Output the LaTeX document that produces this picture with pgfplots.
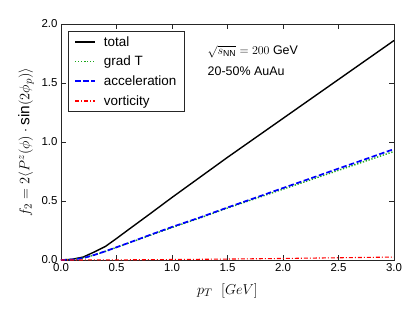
\documentclass[border=0pt]{standalone}
\usepackage{pgfplots}
\pgfplotsset{compat=1.18}
\usepackage{fontspec}
\setmainfont{Liberation Sans}
\definecolor{mplgreen}{rgb}{0.1,0.65,0.1}
\begin{document}
\begin{tikzpicture}[x=1bp,y=1bp]
\path[use as bounding box] (-61,-52) rectangle (354,260);
\begin{axis}[
  at={(0,0)}, anchor=south west,
  scale only axis, width=333bp, height=236bp,
  xmin=0, xmax=3, ymin=0, ymax=2,
  xtick={0,0.5,...,3}, ytick={0,0.5,...,2},
  xticklabel style={/pgf/number format/.cd, fixed, fixed zerofill, precision=1},
  yticklabel style={/pgf/number format/.cd, fixed, fixed zerofill, precision=1},
  /pgf/number format/assume math mode=true,
  tick label style={font=\fontsize{11.5}{12}\selectfont},
  tick align=inside, tick pos=both,
  major tick length=5bp,
  axis line style={black!85, line width=0.8pt},
  every tick/.style={black!85, line width=0.6pt},
  xlabel={$p_T\ \ [GeV]$},
  ylabel={$f_2 = 2\langle P^z(\phi)\cdot \sin(2\phi_p)\rangle$},
  label style={font=\fontsize{15.5}{16}\selectfont},
  xlabel style={yshift=-5bp},
  ylabel style={yshift=1bp},
  legend style={at={(0.021,0.97)}, anchor=north west, draw=black!85,
    font=\fontsize{13.5}{14}\selectfont, row sep=4.5pt, column sep=6bp,
    inner xsep=6pt, inner ysep=3pt},
  legend cell align=left,
  legend image post style={xscale=1.18},
]
\addplot[black, line width=1.4pt] coordinates {
(0,0) (0.1,0.006) (0.2,0.025) (0.3,0.068) (0.4,0.115) (0.5,0.182) (0.6,0.252) (0.8,0.39) (1.0,0.53) (1.25,0.70) (1.5,0.87) (1.75,1.035) (2.0,1.20) (2.25,1.365) (2.5,1.53) (2.75,1.695) (3.0,1.86)};
\addlegendentry{total}
\addplot[mplgreen, dash pattern=on 1.3bp off 1.7bp, line width=1.4pt] coordinates {
(0,0) (0.1,0.004) (0.2,0.016) (0.3,0.042) (0.4,0.073) (0.5,0.107) (0.6,0.14) (0.8,0.208) (1.0,0.275) (1.25,0.355) (1.5,0.44) (1.75,0.52) (2.0,0.60) (2.25,0.68) (2.5,0.76) (2.75,0.84) (3.0,0.92)};
\addlegendentry{grad T}
\addplot[blue, dash pattern=on 5.5bp off 2.5bp, line width=1.7pt] coordinates {
(0,0) (0.1,0.004) (0.2,0.016) (0.3,0.043) (0.4,0.074) (0.5,0.108) (0.6,0.142) (0.8,0.212) (1.0,0.28) (1.25,0.36) (1.5,0.445) (1.75,0.527) (2.0,0.61) (2.25,0.692) (2.5,0.775) (2.75,0.857) (3.0,0.94)};
\addlegendentry{acceleration}
\addplot[red, dash pattern=on 4bp off 2bp on 1bp off 2bp, line width=1.1pt] coordinates {
(0,0) (0.5,0.001) (1.0,0.004) (1.5,0.008) (2.0,0.013) (2.5,0.019) (3.0,0.025)};
\addlegendentry{vorticity}
\node[anchor=south west, font=\fontsize{11.5}{12}\selectfont, inner sep=1pt] at (rel axis cs:0,1) {1e$-$2};
\node[anchor=west, font=\fontsize{12.5}{13}\selectfont, inner sep=0pt] at (rel axis cs:0.44,0.882) {$\sqrt{s_{\mathrm{NN}}}=200$ GeV};
\node[anchor=west, font=\fontsize{12.5}{13}\selectfont, inner sep=0pt] at (rel axis cs:0.44,0.80) {20-50\% AuAu};
\end{axis}
\end{tikzpicture}
\end{document}
